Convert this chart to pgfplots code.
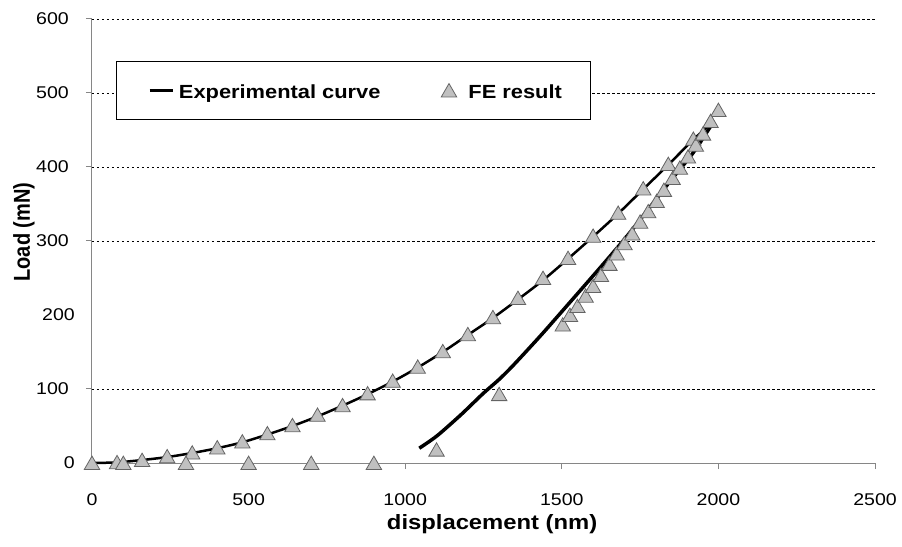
\documentclass[border=0pt]{standalone}
\usepackage{fontspec}
\setmainfont{Liberation Sans}
\newfontfamily\widesans{Liberation Sans}[FakeStretch=1.15]
\usepackage{pgfplots}
\pgfplotsset{compat=1.18}

\definecolor{markfill}{RGB}{192,192,192}
\definecolor{markedge}{RGB}{100,100,100}
\definecolor{axisgray}{RGB}{134,134,134}

\begin{document}
\begin{tikzpicture}
\begin{axis}[
    at={(0,0)}, anchor=south west,
    scale only axis, width=783bp, height=444bp,
    xmin=0, xmax=2500, ymin=0, ymax=600,
    clip=false,
    axis x line*=bottom, axis y line*=left,
    axis line style={axisgray, line width=1bp},
    xtick={0,500,...,2500},
    ytick={100,300,400,500,600},
    extra y ticks={0,200},
    extra y tick style={grid=none, major tick length=0pt},
    ymajorgrids,
    major grid style={black, line width=0.7bp, dash pattern=on 2.5bp off 2.5bp},
    tick align=outside, major tick length=6bp,
    tick style={axisgray, line width=1bp},
    /pgf/number format/assume math mode=true,
    /pgf/number format/set thousands separator={},
    tick label style={font=\widesans\fontsize{17bp}{20bp}\selectfont, inner sep=0pt},
    xticklabel style={anchor=north, yshift=-24bp},
    yticklabel style={anchor=east, xshift=-17bp},
    xlabel={displacement (nm)},
    ylabel={Load (mN)},
    every axis x label/.style={at={(axis description cs:0.511,-0.137)}, anchor=center,
        font=\widesans\bfseries\fontsize{20.7bp}{24bp}\selectfont},
    every axis y label/.style={at={(axis description cs:-0.0868,0.52)}, anchor=center,
        rotate=90, yscale=1.15, font=\bfseries\fontsize{20bp}{24bp}\selectfont},
    legend columns=2,
    legend style={at={(axis description cs:0.03065,0.9054)}, anchor=north west,
        draw=black, line width=0.9bp, inner xsep=0pt, inner ysep=20bp,
        font=\widesans\bfseries\fontsize{19bp}{22bp}\selectfont,
        nodes={inner sep=0pt, text height=17bp, text depth=1bp},
        /tikz/column sep=0pt},
]

% experimental curve, loading branch
\addplot[black, line width=2.5bp, smooth,
    legend image code/.code={\path (-32bp,0bp) (28bp,0bp);
        \draw[black, line width=2.5bp] (0bp,0bp) -- (23bp,0bp);}]
coordinates {
(0,0) (60,0.5) (100,1.5) (160,4) (240,8) (320,13.5) (400,20) (480,28)
(560,38.5) (640,50) (720,63) (800,77.5) (880,93) (960,110) (1040,129)
(1120,150) (1200,173) (1280,196) (1360,221) (1440,247) (1520,276)
(1600,306) (1680,337) (1760,370) (1840,403) (1920,437) (1975,458)
};
\addlegendentry{Experimental curve}

% FE result
\addplot[only marks, mark=triangle*, mark size=8.9bp,
    mark options={fill=markfill, draw=markedge, line width=0.8bp, yshift=-2bp},
    legend image code/.code={\path (-68bp,0bp) (19bp,0bp);
        \draw plot coordinates {(0bp,0bp)};}]
coordinates {
(0,0) (80,1) (160,4) (240,9) (320,14) (400,21) (480,29) (560,40) (640,51)
(720,65) (800,78) (880,94) (960,111) (1040,130) (1120,151) (1200,174)
(1280,197) (1360,223) (1440,250) (1520,277) (1600,307) (1680,338)
(1760,371) (1840,404) (1920,438) (2000,477)
(100,0) (300,0) (500,0) (700,0) (900,0) (1100,18) (1300,93)
(1503,187) (1526,200) (1550,212) (1576,226) (1600,239) (1625,254)
(1652,269) (1675,283) (1700,297) (1725,310) (1750,326) (1776,340)
(1803,354) (1826,369) (1854,385) (1877,399) (1903,414) (1928,430)
(1951,445) (1975,462)
};
\addlegendentry{FE result\hspace*{28bp}}

% experimental curve, unloading branch
\addplot[black, line width=3.5bp, smooth, forget plot]
coordinates {
(1045,20) (1080,30) (1111,40) (1180,66) (1249,94) (1300,113) (1345,132)
(1430,171) (1505,207) (1569,238) (1643,274) (1707,306) (1780,345)
(1850,383) (1919,419) (1975,455)
};

\end{axis}
\pgfresetboundingbox
\path[use as bounding box] (-92bp,-84bp) rectangle (810bp,463bp);
\end{tikzpicture}
\end{document}
